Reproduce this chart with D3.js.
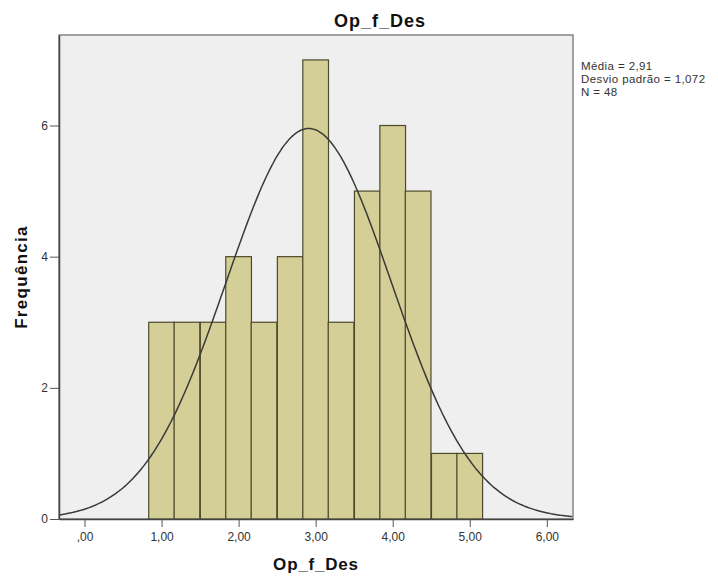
<!DOCTYPE html>
<html>
<head>
<meta charset="utf-8">
<script src="https://cdn.jsdelivr.net/npm/d3@7"></script>
<style>
  body { margin: 0; background: #fff; }
  text { font-family: "Liberation Sans", Arial, sans-serif; }
</style>
</head>
<body>
<div id="chart"></div>
<script>
// histogramme Op_f_Des (classes de largeur 1/3)
const binCenters = [1.00, 1.33, 1.67, 2.00, 2.33, 2.67, 3.00, 3.33, 3.67, 4.00, 4.33, 4.67, 5.00];
const counts = [3, 3, 3, 4, 3, 4, 7, 3, 5, 6, 5, 1, 1];
const binWidth = 1 / 3;

const xTicks = [0, 1, 2, 3, 4, 5, 6];
const xTickLabels = [",00", "1,00", "2,00", "3,00", "4,00", "5,00", "6,00"];
const yTicks = [0, 2, 4, 6];

const media = 2.91;
const desvio = 1.072;
const n = 48;
const legendLines = ["Média = 2,91", "Desvio padrão = 1,072", "N = 48"];

const margin = { top: 35, right: 145, bottom: 58, left: 59 };
const width = 718 - margin.left - margin.right;
const height = 577 - margin.top - margin.bottom;

const svg = d3.select('#chart').append('svg')
  .attr('width', 718)
  .attr('height', 577);

const g = svg.append('g')
  .attr('transform', 'translate(' + margin.left + ',' + margin.top + ')');

const x = d3.scaleLinear().domain([-0.331, 6.34]).range([0, width]);
const y = d3.scaleLinear().domain([0, 7.38]).range([height, 0]);

// fond
g.append('rect')
  .attr('x', 0).attr('y', 0)
  .attr('width', width).attr('height', height)
  .attr('fill', '#efefef')
  .attr('stroke', '#858585')
  .attr('stroke-width', 1.5);

// barres
g.selectAll('rect.bar')
  .data(counts)
  .enter()
  .append('rect')
  .attr('class', 'bar')
  .attr('x', (d, i) => x(binCenters[i] - binWidth / 2))
  .attr('y', d => y(d))
  .attr('width', (d, i) => x(binCenters[i] + binWidth / 2) - x(binCenters[i] - binWidth / 2))
  .attr('height', d => height - y(d))
  .attr('fill', '#d4cf97')
  .attr('stroke', '#4d4a2c')
  .attr('stroke-width', 1.2);

// courbe normale (moyenne, écart-type, N)
const dens = v => n * binWidth / (desvio * Math.sqrt(2 * Math.PI)) *
  Math.exp(-0.5 * Math.pow((v - media) / desvio, 2));
const xs = d3.range(x.domain()[0], x.domain()[1] + 0.001, 0.02);
const line = d3.line().x(d => x(d)).y(d => y(dens(d))).curve(d3.curveBasis);
g.append('path')
  .datum(xs)
  .attr('d', line)
  .attr('fill', 'none')
  .attr('stroke', '#3a3a3a')
  .attr('stroke-width', 1.5);

// axe x
const xAxis = g.append('g')
  .attr('transform', 'translate(0,' + height + ')')
  .call(d3.axisBottom(x).tickValues(xTicks).tickSize(8).tickSizeOuter(0).tickPadding(5)
    .tickFormat((d, i) => xTickLabels[i]));
xAxis.select('.domain').attr('stroke', '#444').attr('stroke-width', 1.5);
xAxis.selectAll('.tick line').attr('stroke', '#555');
xAxis.selectAll('.tick text')
  .attr('font-size', '12px')
  .attr('fill', '#333')
  .style('font-family', '"Liberation Sans", Arial, sans-serif');

// axe y
const yAxis = g.append('g')
  .call(d3.axisLeft(y).tickValues(yTicks).tickSize(9).tickSizeOuter(0).tickPadding(2)
    .tickFormat(d3.format('d')));
yAxis.select('.domain').attr('stroke', '#444').attr('stroke-width', 1.5);
yAxis.selectAll('.tick line').attr('stroke', '#555');
yAxis.selectAll('.tick text')
  .attr('font-size', '12px')
  .attr('fill', '#333')
  .style('font-family', '"Liberation Sans", Arial, sans-serif');

// titre
svg.append('text')
  .attr('x', 380).attr('y', 27)
  .attr('text-anchor', 'middle')
  .attr('font-size', '18px')
  .attr('font-weight', 'bold')
  .attr('letter-spacing', '1px')
  .attr('fill', '#111')
  .text('Op_f_Des');

// titres des axes
svg.append('text')
  .attr('x', 316).attr('y', 570)
  .attr('text-anchor', 'middle')
  .attr('font-size', '17px')
  .attr('font-weight', 'bold')
  .attr('letter-spacing', '0.8px')
  .attr('fill', '#111')
  .text('Op_f_Des');

svg.append('text')
  .attr('transform', 'translate(27,277) rotate(-90)')
  .attr('text-anchor', 'middle')
  .attr('font-size', '17px')
  .attr('font-weight', 'bold')
  .attr('letter-spacing', '1.3px')
  .attr('fill', '#111')
  .text('Frequência');

// légende
svg.selectAll('text.legend')
  .data(legendLines)
  .enter()
  .append('text')
  .attr('class', 'legend')
  .attr('x', 581)
  .attr('y', (d, i) => 70 + i * 13)
  .attr('font-size', '11.5px')
  .attr('letter-spacing', '0.4px')
  .attr('fill', '#333')
  .text(d => d);
</script>
</body>
</html>
